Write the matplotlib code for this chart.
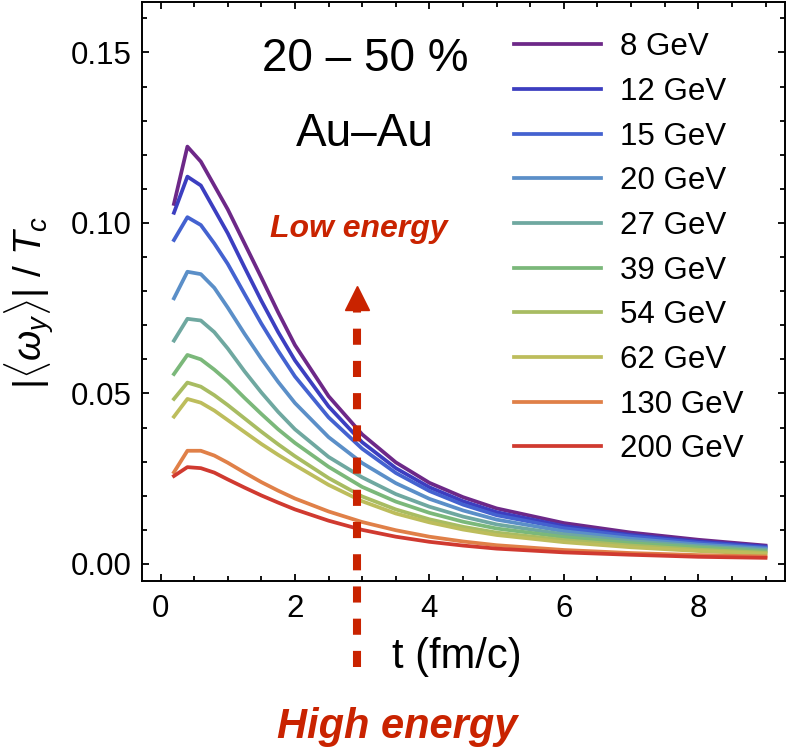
import matplotlib
matplotlib.use("Agg")
from matplotlib import pyplot as plt
import matplotlib as mpl
from matplotlib.ticker import MultipleLocator

mpl.rcParams['font.family'] = ['Liberation Sans', 'DejaVu Sans']
mpl.rcParams['mathtext.fontset'] = 'custom'
mpl.rcParams['mathtext.rm'] = 'Liberation Sans'
mpl.rcParams['mathtext.it'] = 'Liberation Sans:italic'
mpl.rc('axes', linewidth=1.4)
mpl.rc('xtick.major', size=5, width=1.3)
mpl.rc('xtick.minor', size=3.5, width=1.3)
mpl.rc('ytick.major', size=5, width=1.3)
mpl.rc('ytick.minor', size=3.5, width=1.3)

# time grid (fm/c)
t = [0.2, 0.4, 0.6, 0.8, 1.0, 1.25, 1.5, 1.75, 2.0, 2.5, 3.0, 3.5, 4.0, 4.5, 5.0, 6.0, 7.0, 8.0, 9.0]

# |<omega_y>| / Tc
w8 = [0.1056, 0.1224, 0.1180, 0.1110, 0.1040, 0.0940, 0.0840, 0.0738, 0.0642, 0.0492, 0.0380, 0.0298, 0.0238, 0.0196, 0.0163, 0.0120, 0.0092, 0.0071, 0.0054]
w12 = [0.1030, 0.1136, 0.1110, 0.1040, 0.0970, 0.0870, 0.0772, 0.0680, 0.0597, 0.0462, 0.0357, 0.0281, 0.0225, 0.0184, 0.0152, 0.0111, 0.0085, 0.0066, 0.0051]
w15 = [0.0950, 0.1017, 0.0994, 0.0940, 0.0880, 0.0792, 0.0705, 0.0625, 0.0550, 0.0430, 0.0338, 0.0267, 0.0214, 0.0174, 0.0143, 0.0105, 0.0081, 0.0062, 0.0048]
w20 = [0.0779, 0.0857, 0.0850, 0.0810, 0.0752, 0.0675, 0.0602, 0.0534, 0.0472, 0.0372, 0.0296, 0.0237, 0.0191, 0.0157, 0.0130, 0.0096, 0.0074, 0.0057, 0.0045]
w27 = [0.0655, 0.0719, 0.0714, 0.0680, 0.0632, 0.0565, 0.0503, 0.0446, 0.0395, 0.0314, 0.0254, 0.0205, 0.0168, 0.0139, 0.0116, 0.0087, 0.0067, 0.0052, 0.0041]
w39 = [0.0557, 0.0613, 0.0600, 0.0570, 0.0536, 0.0487, 0.0440, 0.0395, 0.0355, 0.0285, 0.0226, 0.0183, 0.0150, 0.0124, 0.0104, 0.0079, 0.0061, 0.0048, 0.0037]
w54 = [0.0484, 0.0532, 0.0520, 0.0495, 0.0466, 0.0427, 0.0388, 0.0351, 0.0316, 0.0252, 0.0198, 0.0160, 0.0131, 0.0109, 0.0092, 0.0070, 0.0054, 0.0042, 0.0033]
w62 = [0.0432, 0.0484, 0.0473, 0.0450, 0.0422, 0.0387, 0.0352, 0.0320, 0.0290, 0.0232, 0.0184, 0.0148, 0.0122, 0.0101, 0.0085, 0.0064, 0.0049, 0.0038, 0.0030]
w130 = [0.0269, 0.0332, 0.0332, 0.0318, 0.0297, 0.0268, 0.0240, 0.0215, 0.0192, 0.0154, 0.0123, 0.0099, 0.0080, 0.0066, 0.0055, 0.0041, 0.0032, 0.0026, 0.0022]
w200 = [0.0258, 0.0284, 0.0281, 0.0268, 0.0248, 0.0224, 0.0201, 0.0180, 0.0160, 0.0127, 0.0100, 0.0080, 0.0065, 0.0054, 0.0045, 0.0034, 0.0027, 0.0021, 0.0018]

labels = ["8 GeV", "12 GeV", "15 GeV", "20 GeV", "27 GeV", "39 GeV", "54 GeV", "62 GeV", "130 GeV", "200 GeV"]
series = [w8, w12, w15, w20, w27, w39, w54, w62, w130, w200]
colors = ['#6d2888', '#3c3ec0', '#4462d0', '#5b8fc8', '#6fa8a0', '#7bb87a', '#a8bc62', '#bdbd5c', '#e08048', '#d03a30']

red = '#c92300'

fig = plt.figure(figsize=(7.88, 7.5), dpi=100)
ax = fig.add_axes([0.1798, 0.2253, 0.8164, 0.772])

for y, lab, c in zip(series, labels, colors):
    ax.plot(t, y, color=c, lw=2.7, label=lab)

ax.set_xlim(-0.28, 9.29)
ax.set_ylim(-0.005, 0.1648)
ax.xaxis.set_major_locator(MultipleLocator(2))
ax.xaxis.set_minor_locator(MultipleLocator(0.5))
ax.yaxis.set_major_locator(MultipleLocator(0.05))
ax.yaxis.set_minor_locator(MultipleLocator(0.01))
ax.yaxis.set_major_formatter(lambda v, p: f"{v:.2f}")
ax.tick_params(which='both', direction='in', top=True, right=True, labelsize=22.5)
ax.tick_params(axis='x', pad=9)
ax.tick_params(axis='y', pad=7)

ax.set_xlabel("t (fm/c)", fontsize=30)
ax.xaxis.set_label_coords(0.49, -0.131)
ax.xaxis.label.set_va('center')
ax.set_ylabel(r"$|\langle\omega_y\rangle|\ /\ T_c$", fontsize=28)
ax.yaxis.set_label_coords(-0.174, 0.482)
ax.yaxis.label.set_va('center')

ax.text(0.347, 0.9016, "20 – 50 %", transform=ax.transAxes, fontsize=33, ha='center', va='center')
ax.text(0.347, 0.772, "Au–Au", transform=ax.transAxes, fontsize=33, ha='center', va='center')
ax.text(0.337, 0.594, "Low energy", transform=ax.transAxes, fontsize=23, color=red,
        fontweight='bold', fontstyle='italic', ha='center', va='baseline')
ax.text(0.397, -0.271, "High energy", transform=ax.transAxes, fontsize=30, color=red,
        fontweight='bold', fontstyle='italic', ha='center', va='baseline')

# dashed arrow
ax.plot([2.92, 2.92], [-0.0302, 0.0745], color=red, lw=5.8, ls=(0, (2, 2)), clip_on=False)
ax.plot([2.92], [0.0779], marker='^', ms=16.6, color=red, clip_on=False)

ax.legend(loc='upper left', bbox_to_anchor=(0.5787, 0.948), frameon=False, fontsize=22.5,
          handlelength=2.8, handletextpad=0.6, labelspacing=0.47, borderpad=0, borderaxespad=0)

fig.savefig("out.png", dpi=100)
